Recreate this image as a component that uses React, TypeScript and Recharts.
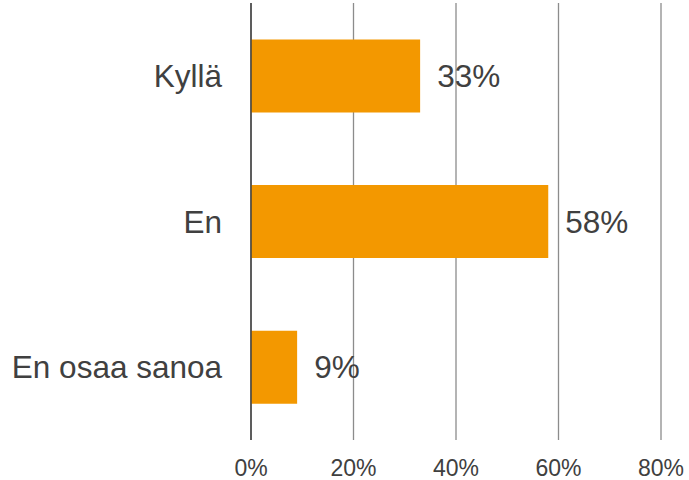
import React from "react";
import { BarChart, Bar, XAxis, YAxis, CartesianGrid, LabelList } from "recharts";

const categories = ["Kyllä", "En", "En osaa sanoa"];
const values = [33, 58, 9];
const xTicks = [0, 20, 40, 60, 80];

const data = categories.map((c, i) => ({ name: c, value: values[i] }));

const FONT = "'Liberation Sans', Arial, sans-serif";

export default function App() {
  return (
    <div style={{ position: "absolute", left: 0, top: 0 }}>
      <BarChart
        width={689}
        height={480}
        data={data}
        layout="vertical"
        margin={{ top: 3, right: 28, bottom: 0, left: 0 }}
        barCategoryGap="25%"
      >
        <CartesianGrid horizontal={false} vertical={true} stroke="#8c8c8c" strokeWidth={1.3} />
        <XAxis
          type="number"
          domain={[0, 80]}
          ticks={xTicks}
          tickFormatter={(v: number) => `${v}%`}
          axisLine={false}
          tickLine={false}
          height={40}
          tickMargin={14}
          tick={{ fill: "#404040", fontSize: 23, fontFamily: FONT }}
        />
        <YAxis
          type="category"
          dataKey="name"
          width={251}
          axisLine={{ stroke: "#404040", strokeWidth: 1.5 }}
          tickLine={false}
          tickMargin={23}
          tick={{ fill: "#404040", fontSize: 31.5, fontFamily: FONT }}
        />
        <Bar dataKey="value" fill="#F39800" isAnimationActive={false}>
          <LabelList
            dataKey="value"
            position="right"
            offset={17}
            formatter={(v: number) => `${v}%`}
            style={{ fill: "#404040", fontSize: 31.5, fontFamily: FONT }}
          />
        </Bar>
      </BarChart>
    </div>
  );
}
